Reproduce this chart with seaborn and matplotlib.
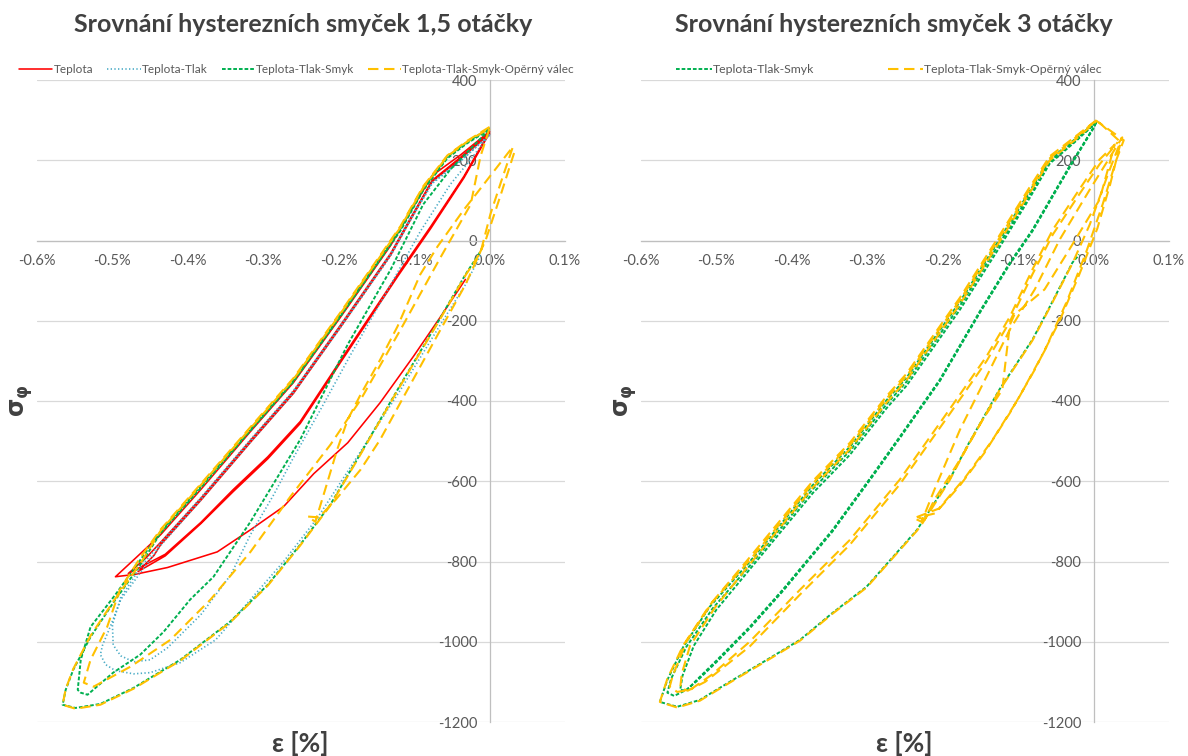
import matplotlib
matplotlib.use("Agg")
import matplotlib.pyplot as plt
import seaborn as sns

sns.set_theme(style="white")
plt.rcParams['font.family'] = ['Lato', 'DejaVu Sans']

# ---------------- data: strain [%] and stress ----------------
title_left = "Srovnání hysterezních smyček 1,5 otáčky"
title_right = "Srovnání hysterezních smyček 3 otáčky"
series_names = ["Teplota", "Teplota-Tlak", "Teplota-Tlak-Smyk", "Teplota-Tlak-Smyk-Opěrný válec"]

x_ticks = [-0.6, -0.5, -0.4, -0.3, -0.2, -0.1, 0.0, 0.1]
x_labels = ["-0.6%", "-0.5%", "-0.4%", "-0.3%", "-0.2%", "-0.1%", "0.0%", "0.1%"]
y_ticks = [-1200, -1000, -800, -600, -400, -200, 0, 200, 400]
y_labels = ["-1200", "-1000", "-800", "-600", "-400", "-200", "0", "200", "400"]

# Left panel (1.5 turns)
teplota_eps = [-0.032, -0.065, -0.101, -0.145, -0.188, -0.233, -0.273, -0.317, -0.361, -0.427, -0.470, -0.496,
               -0.469, -0.436, -0.383, -0.317, -0.260, -0.198, -0.131, -0.105, -0.076, -0.038, 0.000,
               -0.034, -0.078, -0.122, -0.198, -0.251, -0.294, -0.340, -0.383, -0.430, -0.479,
               -0.455, -0.436, -0.383, -0.317, -0.260, -0.198, -0.131, -0.105, -0.076, -0.038, 0.000,
               -0.034, -0.078, -0.122, -0.198, -0.251, -0.294, -0.340, -0.383, -0.430, -0.466,
               -0.445, -0.436, -0.383, -0.317, -0.260, -0.198, -0.131, -0.105, -0.076, -0.038, 0.000]
teplota_sig = [-97, -190, -289, -404, -504, -581, -663, -721, -776, -815, -832, -838,
               -791, -733, -621, -476, -354, -192, -12, 72, 162, 214, 272,
               160, 35, -85, -300, -451, -539, -621, -703, -782, -830,
               -790, -752, -643, -498, -376, -212, -32, 55, 150, 208, 268,
               156, 30, -90, -305, -456, -544, -626, -706, -786, -825,
               -785, -758, -648, -503, -381, -217, -36, 51, 147, 205, 265]

tlak_eps = [0.000, -0.038, -0.076, -0.105, -0.131, -0.198, -0.260, -0.317, -0.383, -0.436, -0.463, -0.489,
            -0.500, -0.499, -0.489, -0.472, -0.450, -0.427, -0.383, -0.343, -0.317, -0.286, -0.260, -0.224,
            -0.184, -0.131, -0.092, -0.052, -0.025, 0.000,
            -0.038, -0.076, -0.105, -0.131, -0.198, -0.260, -0.317, -0.383, -0.436, -0.463, -0.489, -0.503,
            -0.513, -0.516, -0.509, -0.496, -0.472, -0.450, -0.410, -0.363, -0.317, -0.273, -0.228, -0.171,
            -0.118, -0.065, -0.032, -0.012]
tlak_sig = [262, 200, 145, 55, -32, -212, -374, -496, -641, -753, -815, -890,
            -958, -1008, -1035, -1050, -1045, -1015, -933, -833, -733, -633, -541, -421,
            -284, -110, 22, 140, 202, 264,
            198, 142, 50, -38, -218, -380, -502, -647, -760, -828, -895, -963,
            -1008, -1032, -1057, -1072, -1080, -1077, -1052, -995, -895, -800, -691, -526,
            -372, -209, -110, -37]

smyk_eps = [0.000, -0.030, -0.056, -0.088, -0.118, -0.198, -0.260, -0.317, -0.383, -0.436, -0.463, -0.495,
            -0.529, -0.542, -0.546,
            -0.542, -0.533, -0.499, -0.463, -0.432, -0.397, -0.366, -0.317, -0.251, -0.188, -0.131, -0.088,
            -0.052, 0.000,
            -0.030, -0.056, -0.088, -0.118, -0.198, -0.260, -0.317, -0.383, -0.436, -0.463, -0.499, -0.529,
            -0.552, -0.562, -0.566,
            -0.549, -0.516, -0.472, -0.410, -0.344, -0.294, -0.251, -0.211, -0.172, -0.118, -0.065, -0.032,
            -0.012]
smyk_sig = [280, 245, 209, 130, 30, -185, -348, -470, -612, -725, -796, -880,
            -963, -1045, -1120,
            -1127, -1132, -1077, -1032, -975, -895, -838, -701, -496, -259, -72, 90,
            177, 277,
            242, 205, 125, 25, -190, -352, -474, -617, -729, -808, -903, -988,
            -1070, -1120, -1157,
            -1165, -1155, -1115, -1045, -950, -858, -758, -658, -534, -359, -192, -85,
            -27]

valec_eps = [0.000, -0.030, -0.056, -0.088, -0.118, -0.198, -0.260, -0.317, -0.383, -0.436, -0.463, -0.490,
             -0.507, -0.529, -0.538,
             -0.525, -0.476, -0.423, -0.370, -0.317, -0.264, -0.211, -0.171, -0.118, -0.065, -0.025, -0.012,
             0.000,
             -0.030, -0.056, -0.088, -0.118, -0.198, -0.260, -0.317, -0.383, -0.436, -0.463, -0.499, -0.529,
             -0.552, -0.562, -0.566,
             -0.549, -0.516, -0.472, -0.410, -0.344, -0.294, -0.251, -0.211, -0.172, -0.118, -0.065, -0.032,
             -0.012, 0.001, 0.015, 0.031,
             -0.016, -0.034, -0.069, -0.092, -0.122, -0.145, -0.171, -0.188, -0.202, -0.218, -0.231,
             -0.241, -0.226, -0.204, -0.171, -0.145, -0.105, -0.065, -0.032, -0.005, 0.015, 0.034]
valec_sig = [283, 248, 212, 135, 36, -180, -343, -465, -607, -720, -790, -870,
             -963, -1045, -1102,
             -1112, -1062, -995, -895, -776, -638, -509, -397, -222, -42, 90, 210,
             280,
             246, 210, 132, 33, -183, -346, -468, -610, -723, -805, -900, -985,
             -1068, -1118, -1157,
             -1167, -1157, -1117, -1047, -952, -860, -760, -660, -536, -361, -194, -87,
             -30, 65, 145, 234,
             120, 77, -15, -85, -214, -297, -384, -446, -521, -621, -701,
             -688, -690, -646, -571, -496, -359, -222, -110, 2, 115, 227]

# Right panel (3 turns)
smyk3_eps = [0.004, -0.025, -0.058, -0.085, -0.125, -0.177, -0.217, -0.248, -0.274, -0.323, -0.372, -0.412,
             -0.456, -0.500, -0.530, -0.545, -0.548,
             -0.540, -0.526, -0.499, -0.456, -0.412, -0.346, -0.293, -0.257, -0.204, -0.151, -0.111, -0.081,
             -0.032, 0.000, 0.004,
             -0.025, -0.058, -0.085, -0.125, -0.177, -0.217, -0.248, -0.274, -0.323, -0.372, -0.412, -0.456,
             -0.505, -0.540, -0.560, -0.565,
             -0.556, -0.540, -0.526, -0.499, -0.456, -0.412, -0.346, -0.293, -0.257, -0.204, -0.151, -0.111,
             -0.081, -0.032, 0.000, 0.004,
             -0.025, -0.058, -0.085, -0.125, -0.177, -0.217, -0.248, -0.274, -0.323, -0.372, -0.412, -0.456,
             -0.509, -0.544, -0.565, -0.575,
             -0.552, -0.522, -0.478, -0.433, -0.389, -0.346, -0.301, -0.234, -0.191, -0.168, -0.125, -0.081,
             -0.058, -0.028, -0.019]
smyk3_sig = [295, 245, 192, 105, -18, -172, -279, -362, -417, -534, -629, -720,
             -820, -920, -1010, -1085, -1120,
             -1122, -1095, -1045, -963, -870, -721, -584, -489, -347, -177, -55, 27,
             185, 282, 296,
             248, 197, 113, -8, -162, -269, -352, -407, -524, -619, -711, -811,
             -917, -1013, -1092, -1127,
             -1135, -1120, -1098, -1049, -967, -874, -725, -588, -493, -351, -181, -59,
             23, 181, 280, 297,
             252, 202, 122, 2, -152, -259, -342, -397, -514, -609, -701, -801,
             -913, -1013, -1095, -1150,
             -1162, -1145, -1095, -1045, -995, -928, -863, -721, -596, -514, -372, -247,
             -165, -55, -35]

valec3_eps = [0.004, -0.025, -0.058, -0.085, -0.125, -0.177, -0.217, -0.248, -0.274, -0.323, -0.372, -0.412,
              -0.456, -0.505, -0.540, -0.558, -0.562,
              -0.552, -0.535, -0.506, -0.456, -0.389, -0.323, -0.257, -0.191, -0.142, -0.111, -0.081, -0.054,
              -0.019, 0.008, 0.028,
              0.008, -0.032, -0.065, -0.105, -0.111, -0.121, -0.147, -0.177, -0.211, -0.224,
              -0.232, -0.210, -0.177, -0.145, -0.111, -0.078, -0.045, -0.019, 0.005, 0.022, 0.036,
              0.004, -0.025, -0.058, -0.085, -0.125, -0.177, -0.217, -0.248, -0.274, -0.323, -0.372, -0.412,
              -0.456, -0.509, -0.544, -0.565, -0.575,
              -0.552, -0.522, -0.478, -0.433, -0.389, -0.346, -0.301, -0.234, -0.228, -0.191, -0.168, -0.125,
              -0.081, -0.058, -0.028, -0.005, 0.020, 0.038,
              -0.005, -0.045, -0.078, -0.111, -0.144, -0.177, -0.211, -0.228,
              -0.238, -0.205, -0.170, -0.135, -0.100, -0.065, -0.035, -0.010, 0.012, 0.030, 0.040,
              0.004, -0.025, -0.058, -0.085, -0.125, -0.177, -0.217, -0.248, -0.274, -0.323, -0.372, -0.412,
              -0.456, -0.502, -0.535, -0.546, -0.548,
              -0.538, -0.515, -0.456, -0.389, -0.323, -0.257, -0.191, -0.142, -0.111, -0.081, -0.054, -0.019,
              0.008, 0.032]
valec3_sig = [300, 258, 210, 132, 12, -142, -249, -332, -387, -504, -599, -690,
              -790, -900, -1000, -1085, -1112,
              -1125, -1120, -1082, -1000, -870, -746, -596, -421, -289, -190, -72, 27,
              127, 202, 239,
              102, -22, -122, -185, -210, -372, -446, -546, -646, -696,
              -690, -680, -610, -530, -430, -322, -200, -85, 30, 140, 245,
              300, 255, 205, 126, 6, -148, -255, -338, -393, -510, -605, -697,
              -797, -909, -1009, -1092, -1150,
              -1164, -1147, -1097, -1047, -997, -930, -865, -723, -708, -598, -516, -374,
              -249, -167, -57, 40, 170, 257,
              127, 2, -122, -222, -347, -471, -621, -701,
              -692, -668, -590, -500, -395, -275, -150, -30, 90, 200, 250,
              298, 250, 200, 118, -4, -158, -265, -348, -403, -520, -615, -707,
              -807, -915, -1010, -1080, -1115,
              -1122, -1100, -1012, -882, -758, -608, -433, -301, -202, -84, 15, 115,
              190, 245]

# ---------------- styles ----------------
styles = {
    "Teplota": dict(color="#FF0000", linewidth=1.15, linestyle="-"),
    "Teplota-Tlak": dict(color="#4BACC6", linewidth=1.2, linestyle=(0, (0.8, 1.4))),
    "Teplota-Tlak-Smyk": dict(color="#00B050", linewidth=1.4, linestyle=(0, (1.9, 1.0))),
    "Teplota-Tlak-Smyk-Opěrný válec": dict(color="#FFC000", linewidth=1.5, linestyle=(0, (5.0, 2.7))),
}

W, H = 1188, 756
fig = plt.figure(figsize=(W / 100, H / 100), dpi=100)
axL = fig.add_axes([37 / W, 1 - 722 / H, 528 / W, 642 / H])
axR = fig.add_axes([641 / W, 1 - 722 / H, 528 / W, 642 / H])


def draw(ax, eps, sig, name, z):
    st = styles[name]
    sns.lineplot(x=eps, y=sig, ax=ax, sort=False, estimator=None, label=name,
                 zorder=z, legend=False, **st)


draw(axL, teplota_eps, teplota_sig, series_names[0], 3)
draw(axL, tlak_eps, tlak_sig, series_names[1], 4)
draw(axL, smyk_eps, smyk_sig, series_names[2], 5)
draw(axL, valec_eps, valec_sig, series_names[3], 6)

draw(axR, smyk3_eps, smyk3_sig, series_names[2], 5)
draw(axR, valec3_eps, valec3_sig, series_names[3], 6)

tick_col = "#595959"
for ax in (axL, axR):
    ax.set_xlim(-0.6, 0.1)
    ax.set_ylim(-1200, 400)
    ax.spines["left"].set_position(("data", 0))
    ax.spines["bottom"].set_position(("data", 0))
    ax.spines["top"].set_visible(False)
    ax.spines["right"].set_visible(False)
    for s in ("left", "bottom"):
        ax.spines[s].set_color("#BFBFBF")
        ax.spines[s].set_linewidth(0.9)
        ax.spines[s].set_zorder(1)
    ax.set_xticks(x_ticks)
    ax.set_xticklabels(x_labels)
    ax.set_yticks(y_ticks)
    ax.set_yticklabels(y_labels)
    ax.tick_params(length=0, labelcolor=tick_col, labelsize=10.5)
    ax.tick_params(axis="x", pad=10)
    ax.tick_params(axis="y", pad=9)
    ax.yaxis.grid(True, color="#D9D9D9", linewidth=0.9)
    ax.xaxis.grid(False)
    ax.set_axisbelow(True)
    ax.set_xlabel("")
    ax.set_ylabel("")
    ax.set_facecolor("white")

# legends
hL, lL = axL.get_legend_handles_labels()
legL = axL.legend(hL, lL, loc="lower center", bbox_to_anchor=(0.492, 1.0), ncol=4, frameon=False,
                  fontsize=8.5, handlelength=2.8, handletextpad=0.1, columnspacing=1.2,
                  borderaxespad=0.2, borderpad=0.2)
hR, lR = axR.get_legend_handles_labels()
legR = axR.legend(hR, lR, loc="lower center", bbox_to_anchor=(0.47, 1.0), ncol=2, frameon=False,
                  fontsize=8.8, handlelength=2.9, handletextpad=0.1, columnspacing=6.0,
                  borderaxespad=0.2, borderpad=0.2)
for leg in (legL, legR):
    for t in leg.get_texts():
        t.set_color(tick_col)

# titles and axis labels
title_col = "#404040"
fig.text(303 / W, 1 - 25 / H, title_left, ha="center", va="center", fontsize=18,
         fontweight="bold", color=title_col)
fig.text(894 / W, 1 - 25 / H, title_right, ha="center", va="center", fontsize=18,
         fontweight="bold", color=title_col)
for cx in (300, 904):
    fig.text(cx / W, 1 - 744 / H, "ε [%]", ha="center", va="center", fontsize=19,
             fontweight="bold", color=title_col)
for cx in (22, 626):
    fig.text(cx / W, 1 - 401 / H, r"$\mathbf{\sigma_{\varphi}}$", ha="center", va="center",
             fontsize=17, rotation=90, color=title_col)

fig.savefig("out.png", dpi=100, facecolor="white")
